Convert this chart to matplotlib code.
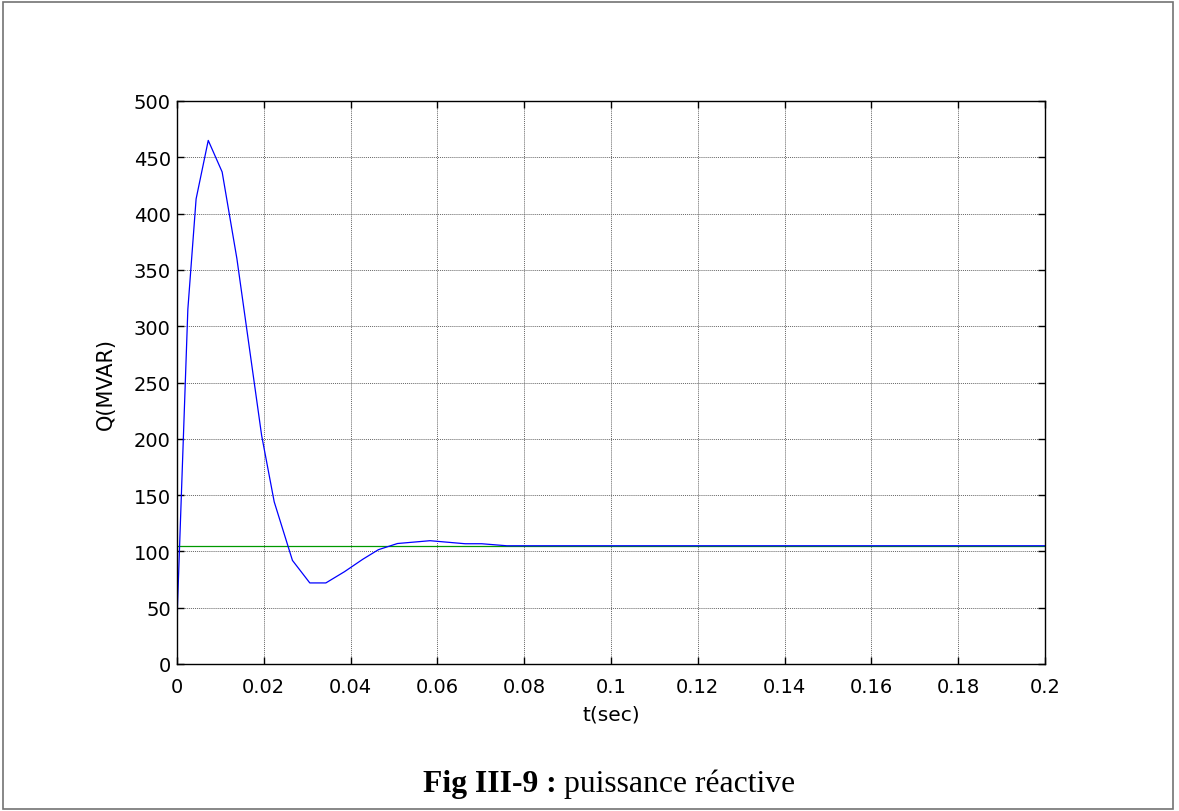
import numpy as np
import matplotlib
matplotlib.use("Agg")
import matplotlib.pyplot as plt
from matplotlib.patches import Rectangle

# reactive power response
t_q = [0.0, 0.0001, 0.0025, 0.0044, 0.0072, 0.0104, 0.0138, 0.0195, 0.0224,
       0.0266, 0.0306, 0.0343, 0.0386, 0.0428, 0.0464, 0.0508, 0.0583,
       0.0664, 0.0702, 0.0760, 0.2]
q_mvar = [0, 50, 315, 413, 465, 437, 360, 203, 144,
          92, 72, 72, 82, 93, 101.5, 107, 109.5,
          106.8, 106.8, 105, 105]

# reference value
t_ref = [0.0, 0.2]
q_ref = [105, 105]

xticks = [0, 0.02, 0.04, 0.06, 0.08, 0.1, 0.12, 0.14, 0.16, 0.18, 0.2]
xtick_labels = ["0", "0.02", "0.04", "0.06", "0.08", "0.1", "0.12", "0.14", "0.16", "0.18", "0.2"]
yticks = [0, 50, 100, 150, 200, 250, 300, 350, 400, 450, 500]

plt.rcParams['font.family'] = ['DejaVu Sans']

W_PX, H_PX = 1179, 812
fig = plt.figure(figsize=(W_PX / 100, H_PX / 100), dpi=100)
ax = fig.add_axes([177 / W_PX, 1 - 665 / H_PX, (1045 - 177) / W_PX, (665 - 102) / H_PX])

ax.plot(t_ref, q_ref, color=(0.0, 0.6, 0.0), linewidth=0.9)
ax.plot(t_q, q_mvar, color=(0.0, 0.0, 1.0), linewidth=0.9)

ax.set_xlim(0, 0.2)
ax.set_ylim(0, 500)
ax.set_xticks(xticks)
ax.set_xticklabels(xtick_labels)
ax.set_yticks(yticks)
ax.tick_params(direction='in', length=5, width=1, labelsize=14,
               top=True, right=True)
ax.tick_params(axis='x', pad=9.5)
ax.tick_params(axis='y', pad=4.5)
ax.grid(True, color='0.4', linestyle=(0, (1, 1)), linewidth=0.7)
for s in ax.spines.values():
    s.set_linewidth(1.0)

ax.set_xlabel("t(sec)", fontsize=14.5, labelpad=6)
ax.set_ylabel("Q(MVAR)", fontsize=15, labelpad=13)

# outer frame
fig.patches.append(Rectangle((2.5 / W_PX, 2.5 / H_PX), 1170 / W_PX, 807 / H_PX,
                             transform=fig.transFigure, fill=False,
                             edgecolor='0.45', linewidth=1.2))

# caption
fig.canvas.draw()
r = fig.canvas.get_renderer()
cap_y = 1 - 792 / H_PX
t1 = fig.text(0, cap_y, "Fig III-9 : ", fontsize=22.8, fontweight='bold',
              family='Liberation Serif', va='baseline', ha='left')
t2 = fig.text(0, cap_y, "puissance réactive", fontsize=22.8,
              family='Liberation Serif', va='baseline', ha='left')
w1 = t1.get_window_extent(r).width
w2 = t2.get_window_extent(r).width
x0 = (609 - (w1 + w2) / 2) / W_PX
t1.set_x(x0)
t2.set_x(x0 + w1 / W_PX)

fig.savefig("out.png", dpi=100)
